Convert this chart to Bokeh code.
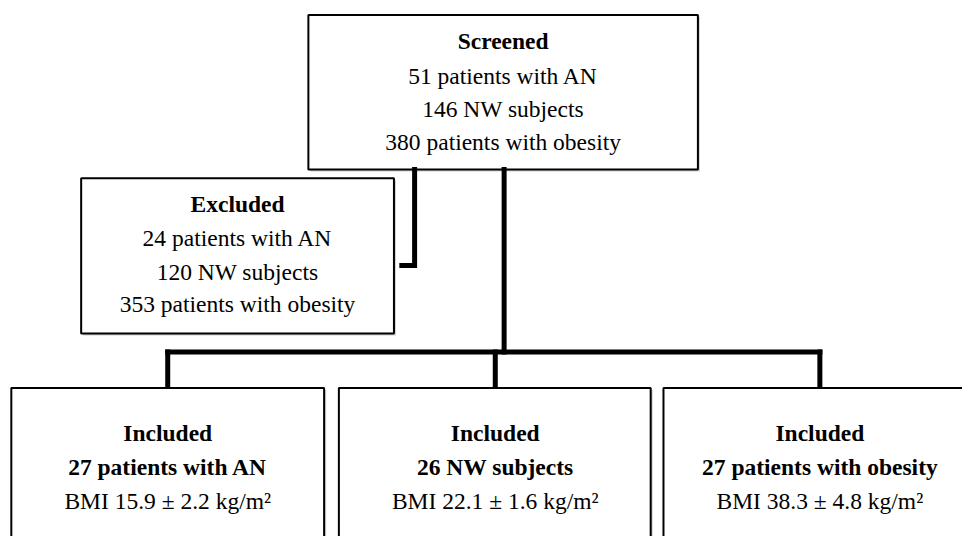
from bokeh.plotting import figure
from bokeh.models import Range1d
from bokeh.core.properties import value
from bokeh.embed import file_html
from bokeh.resources import INLINE

# ---- data ----
screened_counts = [51, 146, 380]
excluded_counts = [24, 120, 353]
included_counts = [27, 26, 27]
group_labels = ["patients with AN", "NW subjects", "patients with obesity"]
bmi_mean = [15.9, 22.1, 38.3]
bmi_sd = [2.2, 1.6, 4.8]

# ---- layout (reference pixel coords, y downward) ----
FONT = value("'Liberation Serif', 'Times New Roman', serif")
FS = "23.5px"
LW = 5

p = figure(width=962, height=536, output_backend="svg", toolbar_location=None,
           x_range=Range1d(0, 978), y_range=Range1d(552, 0), min_border=0)
p.axis.visible = False
p.grid.visible = False
p.outline_line_color = None
p.background_fill_color = "white"
p.border_fill_color = "white"

boxes = [
    (313, 709, 15, 174),   # screened
    (82, 400, 183, 343),   # excluded
    (11, 329, 399, 600),   # included 1
    (344, 661, 399, 600),  # included 2
    (674, 992, 399, 600),  # included 3
]
L = [b[0] for b in boxes]; R = [b[1] for b in boxes]
T = [b[2] for b in boxes]; B = [b[3] for b in boxes]
# shadow
p.quad(left=[l + 2 for l in L], right=[r + 2 for r in R], top=[t + 2 for t in T],
       bottom=[b + 2 for b in B], fill_color="#d0d0d0", line_color=None)
p.quad(left=L, right=R, top=T, bottom=B, fill_color="white",
       line_color="black", line_width=2)

# connectors
xs = [[421, 421, 408], [512, 512], [170, 833], [170, 170], [503, 503], [833, 833]]
ys = [[174, 273, 273], [174, 362], [362, 362], [362, 397], [362, 397], [362, 397]]
p.multi_line(xs=xs, ys=ys, line_color="black", line_width=LW, line_join="miter",
             line_cap="square")

def txt(x, y, s, bold=False):
    p.text(x=x, y=y, text=s, text_font=FONT, text_font_size=FS,
           text_align="center", text_baseline="middle",
           text_font_style="bold" if bold else "normal", text_color="black")

# screened
txt([511], [42], ["Screened"], bold=True)
txt([511] * 3, [78, 112, 146],
    [f"{c} {g}" for c, g in zip(screened_counts, group_labels)])
# excluded
txt([241], [210], ["Excluded"], bold=True)
txt([241] * 3, [245, 280, 313],
    [f"{c} {g}" for c, g in zip(excluded_counts, group_labels)])
# included
cx = [170, 503, 833]
txt(cx, [445] * 3, ["Included"] * 3, bold=True)
txt(cx, [480] * 3, [f"{c} {g}" for c, g in zip(included_counts, group_labels)], bold=True)
txt(cx, [515] * 3, [f"BMI {m:.1f} \u00b1 {s:.1f} kg/m\u00b2" for m, s in zip(bmi_mean, bmi_sd)])

open("out.html", "w").write(file_html(p, INLINE))
